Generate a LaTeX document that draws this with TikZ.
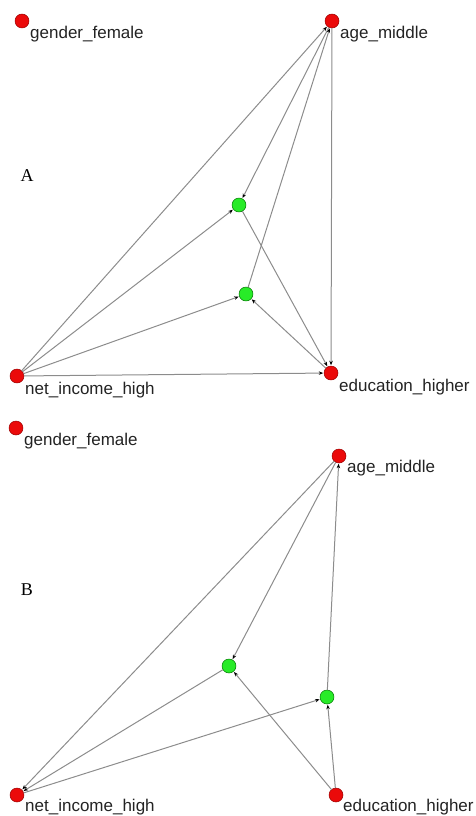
\documentclass[tikz,border=0pt]{standalone}
\usepackage{fontspec}
\setmainfont{Liberation Serif}
\setsansfont{Liberation Sans}
\usetikzlibrary{arrows.meta}

\definecolor{dotRed}{RGB}{235,10,10}
\definecolor{dotGreen}{RGB}{40,235,40}
\definecolor{edgeGray}{RGB}{140,140,140}
\definecolor{txtGray}{RGB}{35,35,35}

\begin{document}
\begin{tikzpicture}[x=1pt, y=-1pt, line cap=round, line join=round]

% ---------------- styles ----------------
\tikzset{
  red dot/.style  ={circle, draw=red!60!black, fill=dotRed, line width=0.5pt,
                    minimum size=14pt, inner sep=0pt},
  green dot/.style={circle, draw=green!45!black, fill=dotGreen, line width=0.5pt,
                    minimum size=14pt, inner sep=0pt},
  lbl/.style      ={anchor=west, inner sep=0pt, text=txtGray,
                    font=\sffamily\fontsize{17}{20}\selectfont},
  panel/.style    ={anchor=center, inner sep=0pt,
                    font=\rmfamily\fontsize{18}{20}\selectfont},
  link/.style     ={draw=edgeGray, line width=1pt, shorten >=0.5pt,
                    -{Stealth[length=4.5pt, width=3.5pt, color=black]}}
}

% ---------------- frame ----------------
\useasboundingbox (0,0) rectangle (475,816);

% ---------------- panel A ----------------
\node[panel] (pA) at (27,176) {A};

\node[red dot]   (fA)  at (22,21)   {};
\node[red dot]   (amA) at (332,21)  {};
\node[green dot] (g1A) at (239,205) {};
\node[green dot] (g2A) at (246,294) {};
\node[red dot]   (niA) at (17,376)  {};
\node[red dot]   (ehA) at (331,373) {};

\node[lbl] (tfA)  at ([shift={(8,13)}]fA.center)  {gender\_female};
\node[lbl] (tamA) at ([shift={(8,13)}]amA.center) {age\_middle};
\node[lbl] (tniA) at ([shift={(8,14)}]niA.center) {net\_income\_high};
\node[lbl] (tehA) at ([shift={(8,14)}]ehA.center) {education\_higher};

\draw[link] (niA) -- (amA);
\draw[link] (niA) -- (g1A);
\draw[link] (niA) -- (g2A);
\draw[link] (niA) -- (ehA);
\draw[link] (amA) -- (g1A);
\draw[link] (g2A) -- (amA);
\draw[link] (amA) -- (ehA);
\draw[link] (g1A) -- (ehA);
\draw[link] (ehA) -- (g2A);

% ---------------- panel B ----------------
\node[panel] (pB) at (27,590) {B};

\node[red dot]   (fB)  at (16,428)  {};
\node[red dot]   (amB) at (339,456) {};
\node[green dot] (g1B) at (229,666) {};
\node[green dot] (g2B) at (327,697) {};
\node[red dot]   (niB) at (17,795)  {};
\node[red dot]   (ehB) at (336,795) {};

\node[lbl] (tfB)  at ([shift={(8,13)}]fB.center)  {gender\_female};
\node[lbl] (tamB) at ([shift={(8,12)}]amB.center) {age\_middle};
\node[lbl] (tniB) at ([shift={(8,12)}]niB.center) {net\_income\_high};
\node[lbl] (tehB) at ([shift={(7,12)}]ehB.center) {education\_higher};

\draw[link] (amB) -- (niB);
\draw[link] (amB) -- (g1B);
\draw[link] (g1B) -- (niB);
\draw[link] (niB) -- (g2B);
\draw[link] (g2B) -- (amB);
\draw[link] (ehB) -- (g1B);
\draw[link] (ehB) -- (g2B);

\end{tikzpicture}
\end{document}
